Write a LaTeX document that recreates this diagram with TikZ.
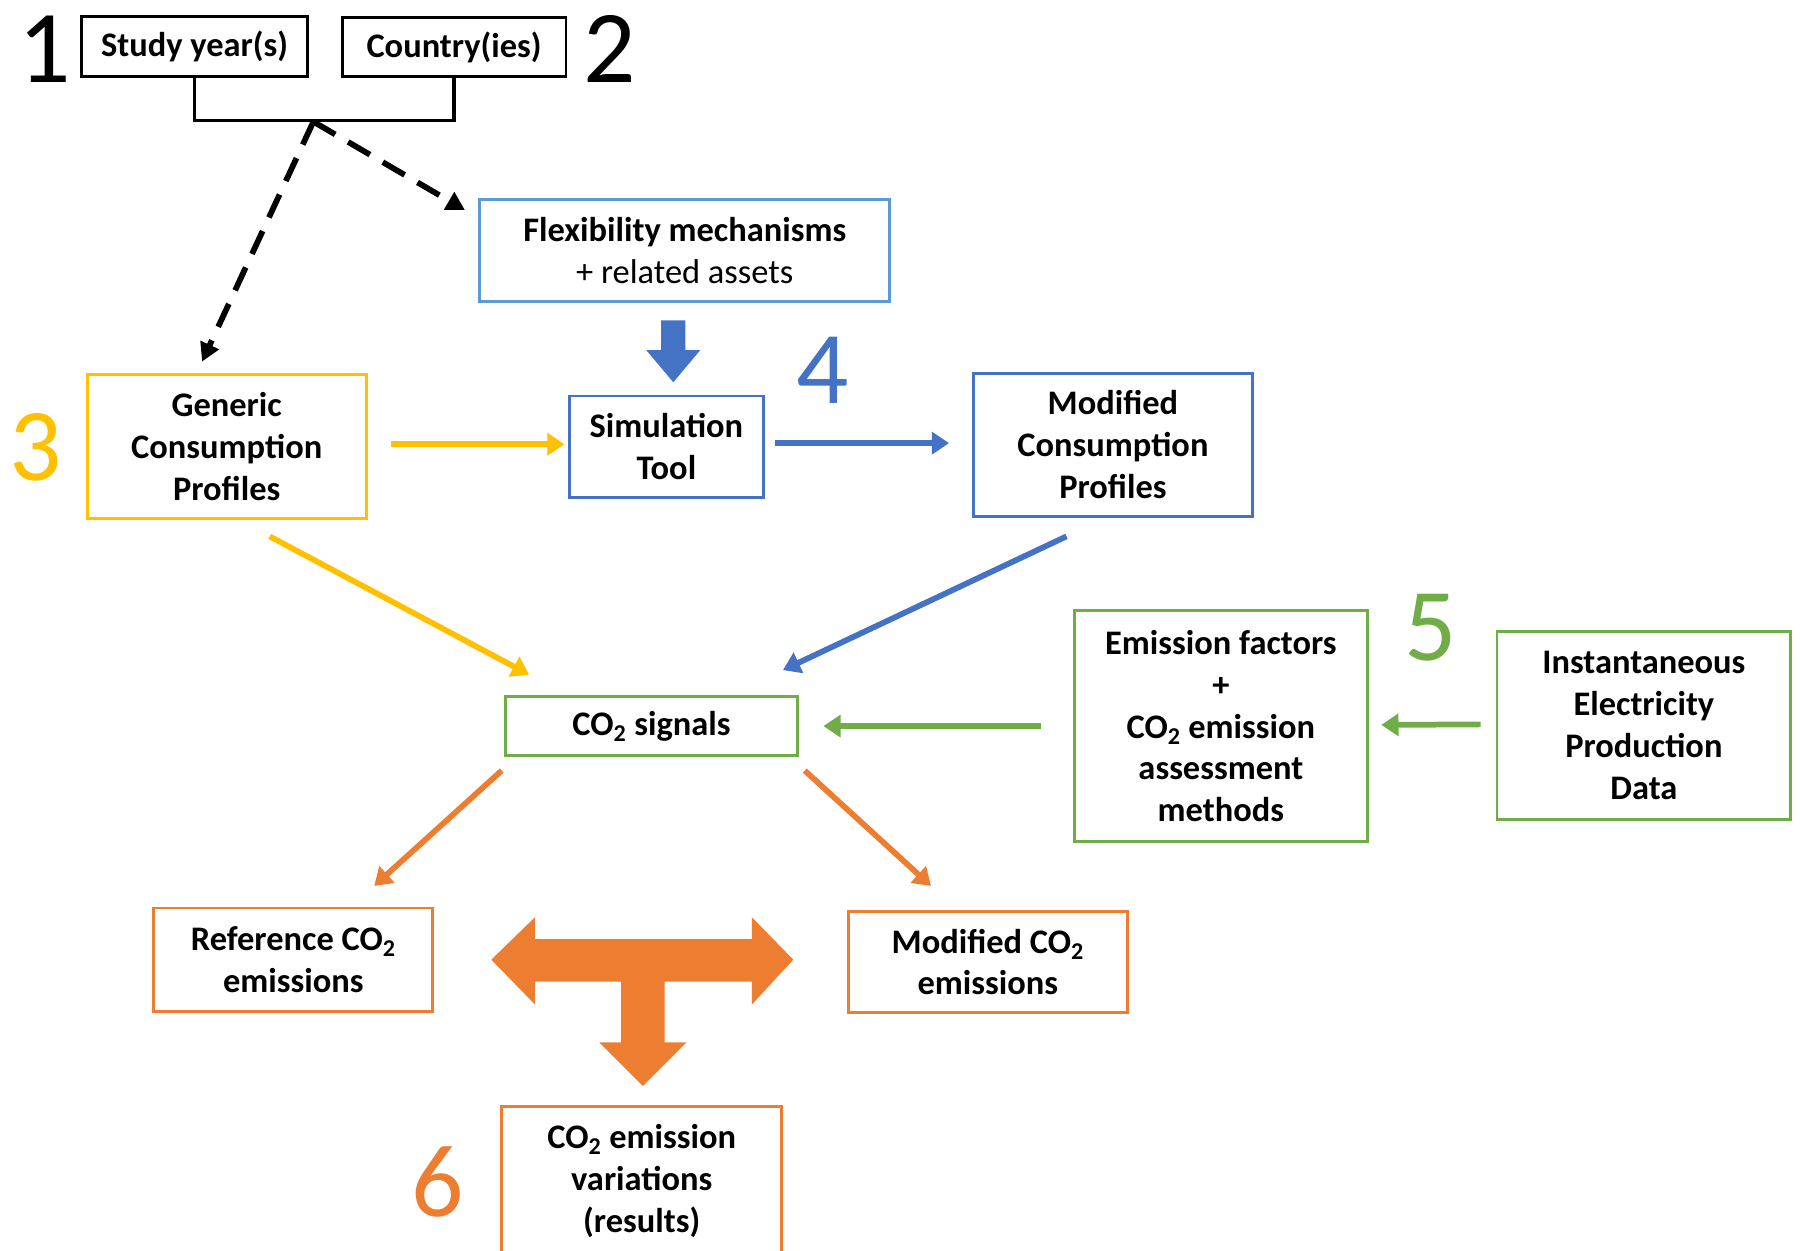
\documentclass[tikz,border=0pt]{standalone}
\usepackage{fontspec}
\setmainfont{Carlito}
\usetikzlibrary{arrows.meta}
\definecolor{cyel}{HTML}{FFC000}
\definecolor{cblue}{HTML}{4472C4}
\definecolor{clblue}{HTML}{5B9BD5}
\definecolor{cgreen}{HTML}{70AD47}
\definecolor{corange}{HTML}{ED7D31}
\begin{document}
\begin{tikzpicture}[x=1pt,y=-1pt,
  box/.style={draw, line width=2.5pt, align=center, inner sep=0pt,
    font=\fontsize{30}{36.5}\selectfont\bfseries},
  num/.style={inner sep=0pt, font=\fontsize{90}{90}\selectfont},
  dasharrow/.style={line width=5pt, dash pattern=on 22pt off 13pt,
    -{Triangle[length=16pt,width=17pt]}},
  carrow/.style={line width=5pt, -{Triangle[length=15pt,width=19pt]}}]
\useasboundingbox (0,0) rectangle (1568,1089);

% top inputs
\node[box, minimum width=197pt, minimum height=53pt] (study) at (169.5,40.5) {Study year(s)};
\node[box, minimum width=195pt, minimum height=52pt] (country) at (395.5,41) {Country(ies)};
\node[num] (n1) at (39,43) {1};
\node[num] (n2) at (531,43) {2};
\draw[line width=3pt] (study.south) |- (273,105) -| (country.south);
\coordinate (apex) at (273,106);
\coordinate (dend1) at (176,315);
\coordinate (dend2) at (405,183);
\draw[dasharrow] (apex) -- (dend1);
\draw[dasharrow] (apex) -- (dend2);

% flexibility / simulation
\node[box, draw=clblue, minimum width=357pt, minimum height=89pt] (flex) at (596.5,218.5)
  {Flexibility mechanisms\\\mdseries + related assets};
\node[box, draw=cblue, minimum width=169pt, minimum height=88pt] (sim) at (580.5,389) {Simulation\\Tool};
\fill[cblue] (576,279) -- (597,279) -- (597,305) -- (610,305) -- (586.5,333)
  -- (563,305) -- (576,305) -- cycle;
\node[num, text=cblue] (n4) at (717,323) {4};
\node[box, draw=cblue, minimum width=243pt, minimum height=125pt] (mod) at (969.5,387.5)
  {Modified\\Consumption\\Profiles};
\node[box, draw=cyel, minimum width=243pt, minimum height=126pt] (gen) at (197.5,389)
  {Generic\\Consumption\\Profiles};
\node[num, text=cyel] (n3) at (31,390) {3};

\draw[carrow, cyel] ([xshift=20pt,yshift=2pt]gen.east) -- ([xshift=-3pt,yshift=2pt]sim.west);
\draw[carrow, cblue] ([xshift=9pt,yshift=3pt]sim.east) -- ([xshift=-20pt,yshift=1.5pt]mod.west);

% CO2 signals
\node[box, draw=cgreen, minimum width=255pt, minimum height=51pt] (co2) at (567.5,632.5)
  {CO\textsubscript{2} signals};
\node[box, draw=cgreen, minimum width=255pt, minimum height=201pt] (ef) at (1063.5,632.5)
  {Emission factors\\+\\CO\textsubscript{2} emission\\assessment\\methods};
\node[num, text=cgreen] (n5) at (1246,547) {5};
\node[box, draw=cgreen, minimum width=256pt, minimum height=164pt] (inst) at (1432,632)
  {Instantaneous\\Electricity\\Production\\Data};

\draw[carrow, cyel] ([xshift=37.5pt,yshift=-14pt]gen.south) -- ([xshift=-106.5pt,yshift=18pt]co2.north);
\draw[carrow, cblue] ([xshift=-40.5pt,yshift=-16pt]mod.south) -- ([xshift=114.5pt,yshift=22pt]co2.north);
\draw[carrow, cgreen] ([xshift=-28pt]ef.west) -- ([xshift=21pt]co2.east);
\draw[carrow, cgreen] ([xshift=-13pt,yshift=1pt]inst.west) -- ([xshift=11pt,yshift=1pt]ef.east);

% emissions
\node[box, draw=corange, minimum width=243pt, minimum height=90pt] (ref) at (255.5,836)
  {Reference CO\textsubscript{2}\\emissions};
\node[box, draw=corange, minimum width=243pt, minimum height=88pt] (modco2) at (860.5,838)
  {Modified CO\textsubscript{2}\\emissions};
\draw[carrow, corange] ([xshift=-130.5pt,yshift=-12pt]co2.south) -- ([xshift=70.5pt,yshift=18pt]ref.north);
\draw[carrow, corange] ([xshift=133.5pt,yshift=-12pt]co2.south) -- ([xshift=-49.5pt,yshift=21pt]modco2.north);

\fill[corange] (428,836) -- (466,799) -- (466,818) -- (655,818) -- (655,799) -- (691,836)
  -- (655,875) -- (655,855) -- (579,855) -- (579,908) -- (598,908) -- (560,946)
  -- (522,908) -- (541,908) -- (541,855) -- (466,855) -- (466,875) -- cycle;

\node[box, draw=corange, minimum width=244pt, minimum height=130pt] (var) at (559,1029)
  {CO\textsubscript{2} emission\\variations\\(results)};
\node[num, text=corange] (n6) at (381,1030) {6};
\end{tikzpicture}
\end{document}
